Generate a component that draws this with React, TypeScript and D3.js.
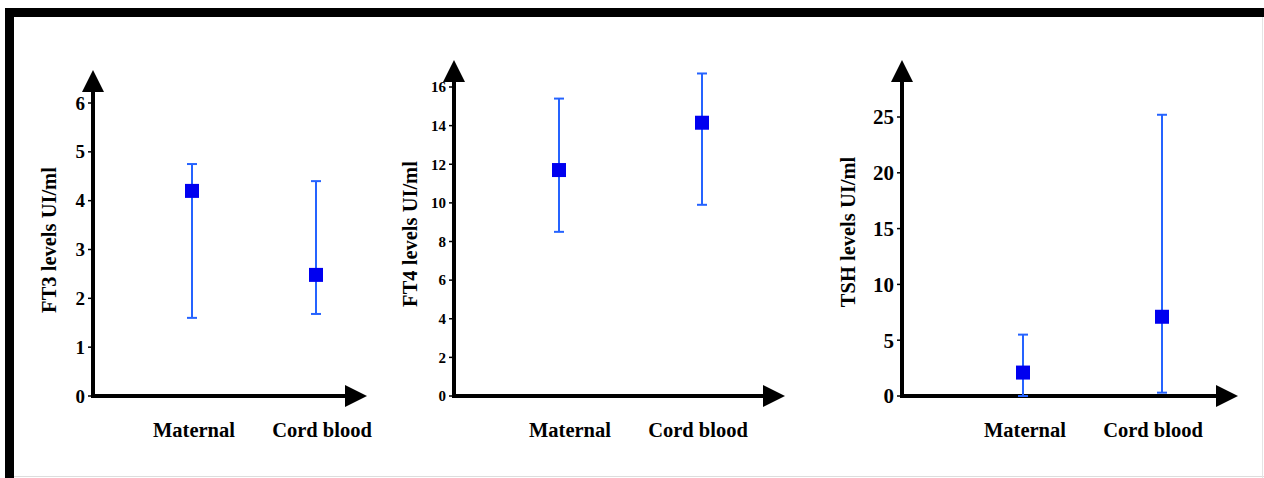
import React from "react";
import * as d3 from "d3";

const categories = ["Maternal", "Cord blood"];

const ft3Mean = [4.2, 2.48];
const ft3Upper = [4.75, 4.4];
const ft3Lower = [1.6, 1.68];
const ft3Ticks = [0, 1, 2, 3, 4, 5, 6];

const ft4Mean = [11.7, 14.15];
const ft4Upper = [15.4, 16.7];
const ft4Lower = [8.5, 9.9];
const ft4Ticks = [0, 2, 4, 6, 8, 10, 12, 14, 16];

const tshMean = [2.1, 7.1];
const tshUpper = [5.5, 25.2];
const tshLower = [0, 0.3];
const tshTicks = [0, 5, 10, 15, 20, 25];

const FONT = "'Liberation Serif', 'Times New Roman', serif";
const LINE = "#2563ff";
const MARK = "#0000f0";

type PanelProps = {
  label: string;
  mean: number[];
  upper: number[];
  lower: number[];
  ticks: number[];
  axisX: number;
  axisEnd: number;
  yZero: number;
  yTopVal: number;
  yTopPx: number;
  arrowTop: number;
  catX: [number, number];
  labelX: [number, number];
  titleX: number;
  titleY: number;
  tickFont: number;
};

function Panel(p: PanelProps) {
  const y = d3.scaleLinear().domain([0, p.yTopVal]).range([p.yZero, p.yTopPx]);
  const x = d3.scaleOrdinal<string, number>().domain(categories).range(p.catX);
  const lx = d3.scaleOrdinal<string, number>().domain(categories).range(p.labelX);
  const aw = 11;
  const ah = 22;
  return (
    <g>
      <line x1={p.axisX} x2={p.axisX} y1={p.yZero + 2} y2={p.arrowTop + ah - 2} stroke="#000" strokeWidth={4} />
      <polygon
        points={`${p.axisX - aw},${p.arrowTop + ah} ${p.axisX + aw},${p.arrowTop + ah} ${p.axisX},${p.arrowTop}`}
        fill="#000"
      />
      <line x1={p.axisX - 2} x2={p.axisEnd - ah + 2} y1={p.yZero} y2={p.yZero} stroke="#000" strokeWidth={4} />
      <polygon
        points={`${p.axisEnd - ah},${p.yZero - aw} ${p.axisEnd - ah},${p.yZero + aw} ${p.axisEnd},${p.yZero}`}
        fill="#000"
      />
      {p.ticks.map((t) => (
        <g key={t}>
          <line x1={p.axisX - 5} x2={p.axisX} y1={y(t)} y2={y(t)} stroke="#000" strokeWidth={1.5} />
          <text
            x={p.axisX - 8}
            y={y(t)}
            dy="0.35em"
            textAnchor="end"
            fontFamily={FONT}
            fontWeight="bold"
            fontSize={p.tickFont}
          >
            {t}
          </text>
        </g>
      ))}
      <text
        transform={`translate(${p.titleX},${p.titleY}) rotate(-90)`}
        textAnchor="middle"
        dy="0.35em"
        fontFamily={FONT}
        fontWeight="bold"
        fontSize={20.5}
      >
        {p.label}
      </text>
      {categories.map((c, i) => (
        <g key={c}>
          <line x1={x(c)} x2={x(c)} y1={y(p.lower[i])} y2={y(p.upper[i])} stroke={LINE} strokeWidth={2} />
          <line x1={x(c) - 5} x2={x(c) + 5} y1={y(p.upper[i])} y2={y(p.upper[i])} stroke={LINE} strokeWidth={2} />
          <line x1={x(c) - 5} x2={x(c) + 5} y1={y(p.lower[i])} y2={y(p.lower[i])} stroke={LINE} strokeWidth={2} />
          <rect x={x(c) - 7} y={y(p.mean[i]) - 7} width={14} height={14} fill={MARK} />
          <text
            x={lx(c)}
            y={430}
            dy="0.35em"
            textAnchor="middle"
            fontFamily={FONT}
            fontWeight="bold"
            fontSize={20.5}
          >
            {c}
          </text>
        </g>
      ))}
    </g>
  );
}

export default function App() {
  return (
    <svg
      width={1264}
      height={478}
      style={{ position: "absolute", left: 0, top: 0, background: "#fff" }}
    >
      <rect x={0} y={0} width={1264} height={478} fill="#fff" />
      <rect x={5} y={8} width={1259} height={9} fill="#000" />
      <rect x={5} y={8} width={9} height={470} fill="#000" />
      <line x1={14} x2={1264} y1={476.5} y2={476.5} stroke="#ddd" strokeWidth={1} />
      <line x1={1262.5} x2={1262.5} y1={17} y2={478} stroke="#e4e4e4" strokeWidth={1} />
      <Panel
        label="FT3 levels UI/ml"
        mean={ft3Mean}
        upper={ft3Upper}
        lower={ft3Lower}
        ticks={ft3Ticks}
        axisX={93}
        axisEnd={367}
        yZero={396}
        yTopVal={6}
        yTopPx={103}
        arrowTop={70}
        catX={[192, 316]}
        labelX={[194, 322]}
        titleX={49}
        titleY={240}
        tickFont={19}
      />
      <Panel
        label="FT4 levels UI/ml"
        mean={ft4Mean}
        upper={ft4Upper}
        lower={ft4Lower}
        ticks={ft4Ticks}
        axisX={454}
        axisEnd={785}
        yZero={396}
        yTopVal={16}
        yTopPx={87}
        arrowTop={60}
        catX={[559, 702]}
        labelX={[570, 698]}
        titleX={410}
        titleY={234}
        tickFont={15}
      />
      <Panel
        label="TSH levels UI/ml"
        mean={tshMean}
        upper={tshUpper}
        lower={tshLower}
        ticks={tshTicks}
        axisX={902}
        axisEnd={1238}
        yZero={396}
        yTopVal={25}
        yTopPx={117}
        arrowTop={60}
        catX={[1023, 1162]}
        labelX={[1025, 1153]}
        titleX={848}
        titleY={232}
        tickFont={21}
      />
    </svg>
  );
}
